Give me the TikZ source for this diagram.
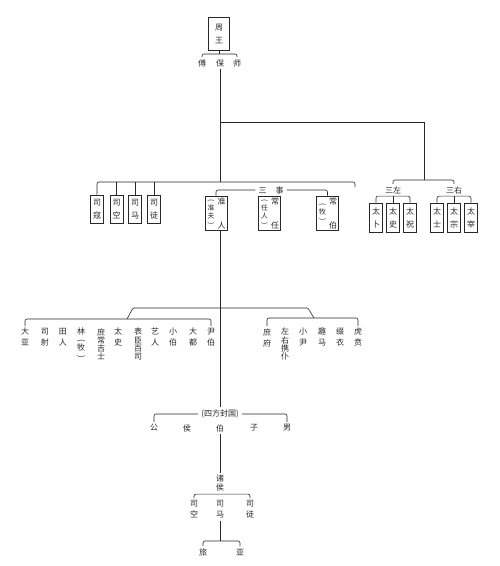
\documentclass[tikz,border=0pt]{standalone}
\usepackage{fontspec}
\usepackage{graphicx}
\newfontfamily\cjk{Noto Sans CJK SC}
\usetikzlibrary{positioning}
\definecolor{ink}{RGB}{40,40,40}
\newcommand{\kai}{\rotatebox[origin=c]{-90}{(}}
\newcommand{\he}{\rotatebox[origin=c]{-90}{)}}
\tikzset{
  zi/.style={font=\cjk\fontsize{8}{11}\selectfont,text=ink,inner sep=0.5pt,align=center},
  ming/.style={zi,outer ysep=2pt},
  zhu/.style={font=\cjk\fontsize{6.8}{7.6}\selectfont,text=ink,inner sep=0.5pt,align=center},
  guan/.style={draw=ink,line width=0.6pt,minimum width=13pt,minimum height=28pt,inner sep=0pt,
    font=\cjk\fontsize{8}{13.5}\selectfont,text=ink,align=center},
  zhubox/.style={draw=ink,line width=0.6pt,minimum width=22pt,minimum height=34pt,inner sep=0pt},
  link/.style={draw=ink,line width=0.6pt},
  brk/.style={link,rounded corners=2pt},
}

\begin{document}
\begin{tikzpicture}[x=1pt,y=-1pt]
  \useasboundingbox (0,0) rectangle (500,566);
  % king and the three dukes
  \node[guan,minimum width=21pt,minimum height=33pt,font=\cjk\fontsize{8}{13}\selectfont] (zhou) at (219,33.5) {周\\王};
  \node[ming] (fu) at (202,63) {傅};
  \node[ming] (bao) at (220,63) {保};
  \node[ming] (shi) at (237,63) {师};
  \coordinate (fbs) at (219,54);
  \draw[link] (zhou.south) -- (fbs);
  \draw[brk] (fu.north) |- (fbs) -| (shi.north);
  \coordinate (j0) at (220,122);
  \coordinate (j1) at (220,182);
  \draw[link] (bao.south) -- (j1);

  % ministers
  \node[guan] (sikou) at (97,209) {司\\寇};
  \node[guan] (sikong) at (116.5,209) {司\\空};
  \node[guan] (sima) at (135,209) {司\\马};
  \node[guan] (situ) at (154,209) {司\\徒};
  \coordinate (cb) at (355,187);
  \draw[brk] (sikou.north) |- (j1) -| (cb);
  \foreach \n in {sikong,sima,situ} \draw[link] (\n.north) -- (\n.north |- j1);

  \node[zhubox] (zhunren) at (216,213) {};
  \node[zi,below left=1.5pt and 1pt of zhunren.north east] (zhunren-t) {准};
  \node[zi,above left=0.5pt and 1pt of zhunren.south east] (zhunren-b) {人};
  \node[zhu,right=2.2pt of zhunren.west] (zhunren-z) {\kai\\准\\夫\\\he};
  \node[zhubox] (changren) at (269.5,213) {};
  \node[zi,below left=1.5pt and 1pt of changren.north east] (changren-t) {常};
  \node[zi,above left=0.5pt and 1pt of changren.south east] (changren-b) {任};
  \node[zhu,right=2.2pt of changren.west] (changren-z) {\kai\\任\\人\\\he};
  \node[zhubox] (changbo) at (327.5,213) {};
  \node[zi,below left=1.5pt and 1pt of changbo.north east] (changbo-t) {常};
  \node[zi,above left=0.5pt and 1pt of changbo.south east] (changbo-b) {伯};
  \node[zhu,right=2.2pt of changbo.west] (changbo-z) {\kai\\牧\\\he};
  \node[zi,inner xsep=3pt] (sanshi) at (271,190) {三\hspace{9pt}事};
  \draw[brk] (zhunren.north) |- (sanshi.west);
  \draw[brk] (sanshi.east) -| (changbo.north);

  % three left, three right
  \coordinate (sz) at (424,180);
  \draw[link] (j0) -| (sz);
  \node[ming] (sanzuo) at (393,190) {三左};
  \node[ming] (sanyou) at (454,190) {三右};
  \draw[brk] (sanzuo.north) |- (sz) -| (sanyou.north);
  \foreach \n/\x/\w in {taibu/376/太\\卜,taishi/393/太\\史,taizhu/410/太\\祝,
      taishi2/437/太\\士,taizong/454/太\\宗,taizai/471/太\\宰}
    \node[guan,minimum width=12.5pt,minimum height=29pt,font=\cjk\fontsize{8}{13}\selectfont] (\n) at (\x,217.5) {\w};
  \draw[brk] (taibu.north) |- (sanzuo.south) -| (taizhu.north);
  \draw[link] (sanzuo.south) -- (taishi.north);
  \draw[brk] (taishi2.north) |- (sanyou.south) -| (taizai.north);
  \draw[link] (sanyou.south) -- (taizong.north);

  % officials below
  \foreach \n/\x/\w in {daya/25/大\\亚,sishe/45/司\\射,tianren/63/田\\人,
      lin/81/林\\[-3pt]\kai\\[-3pt]牧\\[-3pt]\he,
      shuchang/101/庶\\[-2.7pt]常\\[-2.7pt]吉\\[-2.7pt]士,ltaishi/118/太\\史,
      biaochen/138/表\\[-2.7pt]臣\\[-2.7pt]百\\[-2.7pt]司,yiren/155/艺\\人,
      xiaobo/173/小\\伯,dadu/193/大\\都,yinbo/211/尹\\伯,
      shufu/267/庶\\府,zuoyou/285/左\\[-2.7pt]右\\[-2.7pt]携\\[-2.7pt]仆,
      xiaoyin/303/小\\尹,quma/322/趣\\马,zhuiyi/340/缀\\衣,huben/358/虎\\贲}
    \node[ming,anchor=north] (\n) at (\x,325.75) {\w};
  \coordinate (ul) at (127,319);
  \coordinate (ul2) at (133,308);
  \coordinate (ur2) at (308,308);
  \coordinate (ur) at (314,318);
  \draw[link,rounded corners=1pt] (ul) -- (ul2) -- (ur2) -- (ur);
  \draw[brk] (daya.north) |- (ul) -| (yinbo.north);
  \draw[brk] (shufu.north) |- (ur) -| (huben.north);

  % the fiefs of the four quarters
  \node[ming,inner xsep=3pt] (fang) at (220,414) {(四方封国)};
  \draw[link] (zhunren.south -| fang) -- (fang.north);
  \foreach \n/\x/\w in {gong/154/公,hou/187/侯,bo/220/伯,zijue/254/子,nan/287/男}
    \node[ming] (\n) at (\x,428) {\w};
  \draw[brk] (gong.north) |- (fang.west);
  \draw[brk] (fang.east) -| (nan.north);
  \node[ming,anchor=north] (zhuhou) at (220,472.75) {诸\\[-2pt]侯};
  \draw[link] (bo.south) -- (zhuhou.north);
  \foreach \n/\x/\w in {hsikong/194/司\\空,hsima/220/司\\马,hsitu/250/司\\徒}
    \node[ming,anchor=north] (\n) at (\x,497.75) {\w};
  \draw[brk] (hsikong.north) |- (zhuhou.south) -| (hsitu.north);
  \coordinate (j5) at (220,541);
  \draw[link] (hsima.south) -- (j5);
  \node[ming] (lv) at (203,552) {旅};
  \node[ming] (ya) at (240,552) {亚};
  \draw[brk] (lv.north) |- (j5) -| (ya.north);
\end{tikzpicture}
\end{document}
